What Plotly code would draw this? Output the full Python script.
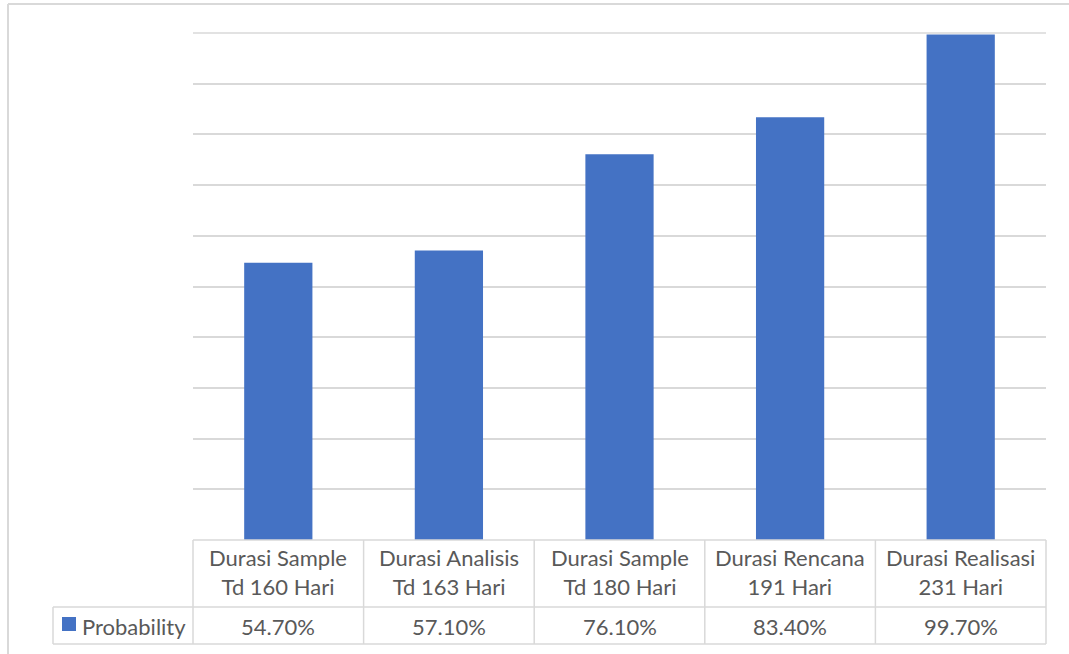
import plotly.graph_objects as go

categories = ["Durasi Sample<br>Td 160 Hari", "Durasi Analisis<br>Td 163 Hari",
              "Durasi Sample<br>Td 180 Hari", "Durasi Rencana<br>191 Hari",
              "Durasi Realisasi<br>231 Hari"]
values = [54.7, 57.1, 76.1, 83.4, 99.7]
value_labels = ["54.70%", "57.10%", "76.10%", "83.40%", "99.70%"]
series_name = "Probability"
y_max = 100

W, H = 1069, 654
BLUE = "#4472c4"
GRID = "#d9d9d9"
TEXT = "#595959"
FONT = "Lato"
FS = 22

def px(x):
    return x / W

def py(y):
    return 1 - y / H

x0, x1 = 193, 1046
y_top, y_bot = 33, 540

fig = go.Figure()
fig.add_trace(go.Bar(x=list(range(len(values))), y=values, marker_color=BLUE,
                     marker_line_width=0, name=series_name, showlegend=False))

shapes = []
def line(xa, ya, xb, yb, w=1.5, layer="above"):
    shapes.append(dict(type="line", xref="paper", yref="paper", layer=layer,
                       x0=px(xa), y0=py(ya), x1=px(xb), y1=py(yb),
                       line=dict(color=GRID, width=w)))

# top gridline (at axis maximum, top edge of plot domain)
line(x0, y_top, x1, y_top, 1.5, "below")

# outer chart border
line(8, 4, 1080, 4, 2)
line(8, 4, 8, 660, 2)

# table borders
ncat = len(categories)
colw = (x1 - x0) / ncat
line(x0, y_bot, x1, y_bot)
line(53, 607, x1, 607)
line(53, 644, x1, 644)
line(53, 607, 53, 644)
for i in range(ncat + 1):
    xx = x0 + i * colw
    line(xx, y_bot, xx, 644)

# legend key
shapes.append(dict(type="rect", xref="paper", yref="paper",
                   x0=px(62), y0=py(631), x1=px(76), y1=py(617),
                   fillcolor=BLUE, line=dict(width=0)))

annotations = []
for i, (c, v) in enumerate(zip(categories, value_labels)):
    annotations.append(dict(x=i, xref="x", y=py(572), yref="paper", text=c,
                            showarrow=False, align="center",
                            font=dict(family=FONT, size=FS, color=TEXT),
                            yanchor="middle", xanchor="center"))
    annotations.append(dict(x=i, xref="x", y=py(626), yref="paper", text=v,
                            showarrow=False, align="center",
                            font=dict(family=FONT, size=FS, color=TEXT),
                            yanchor="middle", xanchor="center"))
annotations.append(dict(x=px(80), xref="paper", y=py(626), yref="paper",
                        text=series_name, showarrow=False, xanchor="left",
                        yanchor="middle",
                        font=dict(family=FONT, size=FS, color=TEXT)))

fig.update_layout(
    width=W, height=H,
    margin=dict(l=0, r=0, t=0, b=0),
    paper_bgcolor="white", plot_bgcolor="white",
    bargap=0.6,
    xaxis=dict(domain=[px(x0), px(x1)], range=[-0.5, ncat - 0.5],
               showticklabels=False, showgrid=False, zeroline=False,
               showline=False, ticks=""),
    yaxis=dict(domain=[py(y_bot), py(y_top)], range=[0, y_max], dtick=10,
               showticklabels=False, showgrid=True, gridcolor=GRID,
               gridwidth=1.5, zeroline=False, showline=False, ticks=""),
    shapes=shapes, annotations=annotations,
    font=dict(family=FONT, color=TEXT),
)

fig.write_html("out.html")
